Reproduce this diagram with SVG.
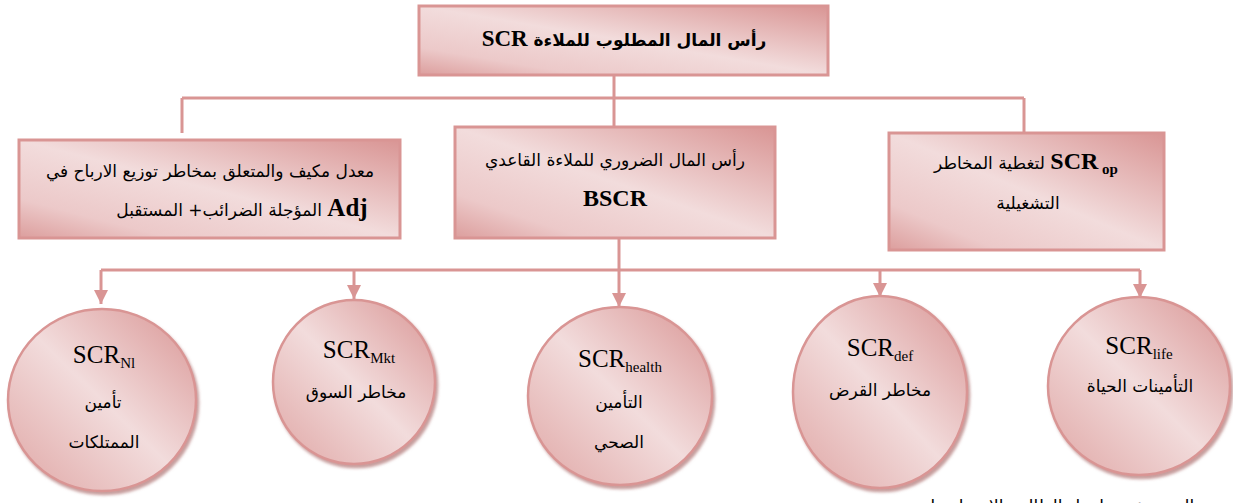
<svg xmlns="http://www.w3.org/2000/svg" width="1233" height="503" viewBox="0 0 1233 503">
  <defs>
    <linearGradient id="fillBox" x1="1" y1="0" x2="0" y2="1">
      <stop offset="0" stop-color="#d99594"/>
      <stop offset="0.5" stop-color="#f2dcdc"/>
      <stop offset="0.8" stop-color="#ecc9c9"/>
      <stop offset="1" stop-color="#dc9e9d"/>
    </linearGradient>
    <linearGradient id="fillCircle" x1="1" y1="0" x2="0" y2="1">
      <stop offset="0" stop-color="#d99594"/>
      <stop offset="0.5" stop-color="#f2dcdc"/>
      <stop offset="0.85" stop-color="#e5b6b5"/>
      <stop offset="1" stop-color="#d99594"/>
    </linearGradient>
    <filter id="shadow" x="-10%" y="-10%" width="125%" height="125%">
      <feGaussianBlur in="SourceAlpha" stdDeviation="1.5"/>
      <feOffset dx="2" dy="3" result="off"/>
      <feFlood flood-color="#a86766" flood-opacity="0.65"/>
      <feComposite in2="off" operator="in"/>
      <feMerge><feMergeNode/><feMergeNode in="SourceGraphic"/></feMerge>
    </filter>
    <marker id="tri" markerUnits="userSpaceOnUse" markerWidth="16" markerHeight="16" viewBox="0 0 16 16" refX="15" refY="8" orient="auto">
      <path d="M1,1 L15,8 L1,15 Z" fill="#d99594"/>
    </marker>
  </defs>
  <style>
    .box { fill: url(#fillBox); stroke: #d99594; stroke-width: 3; }
    .circ { fill: url(#fillCircle); stroke: #d99594; stroke-width: 2.5; filter: url(#shadow); }
    .line { fill: none; stroke: #d99594; stroke-width: 3; }
    .ar { font-family: "DejaVu Sans", "Liberation Serif", sans-serif; font-size: 17px; fill: #000; }
    .rtl { direction: rtl; unicode-bidi: embed; }
    .lat { font-family: "Liberation Serif", serif; fill: #000; }
    .bold { font-weight: bold; }
    .scr { font-size: 25px; }
    .sub { font-size: 15px; }
  </style>

  <!-- connectors -->
  <g id="connectors">
    <path class="line" d="M614,75 V98 M182,98 H1024 M182,98 V133 M614,98 V127 M1024,98 V133"/>
    <path class="line" d="M101,270 H1140"/>
    <path class="line" d="M619,238 V307" marker-end="url(#tri)"/>
    <path class="line" d="M101,270 V304" marker-end="url(#tri)"/>
    <path class="line" d="M354,270 V299" marker-end="url(#tri)"/>
    <path class="line" d="M880,270 V297" marker-end="url(#tri)"/>
    <path class="line" d="M1140,270 V298" marker-end="url(#tri)"/>
  </g>

  <!-- top: required capital -->
  <g id="node-scr">
    <rect class="box" x="419" y="6" width="409" height="69"/>
    <text class="ar rtl" x="624" y="46" text-anchor="middle" font-size="19" font-weight="bold">رأس المال المطلوب للملاءة <tspan class="lat" font-size="23">SCR</tspan></text>
  </g>

  <!-- adjustment box -->
  <g id="node-adj">
    <rect class="box" x="19" y="140" width="381" height="98"/>
    <text class="ar rtl" x="210" y="177" text-anchor="middle">معدل مكيف والمتعلق بمخاطر توزيع الارباح في</text>
    <text class="ar rtl" x="242" y="216" text-anchor="middle" font-size="18"><tspan class="lat bold" font-size="25">Adj</tspan> المؤجلة الضرائب+ المستقبل</text>
  </g>

  <!-- basic SCR box -->
  <g id="node-bscr">
    <rect class="box" x="455" y="127" width="320" height="111"/>
    <text class="ar rtl" x="615" y="166" text-anchor="middle">رأس المال الضروري للملاءة القاعدي</text>
    <text class="lat bold" x="615" y="206" text-anchor="middle" font-size="24">BSCR</text>
  </g>

  <!-- operational risk box -->
  <g id="node-op">
    <rect class="box" x="889" y="133" width="275" height="117"/>
    <text class="ar rtl" x="1026" y="169" text-anchor="middle"><tspan class="lat bold" font-size="24">SCR</tspan><tspan class="lat bold" font-size="15" dy="5"> op</tspan><tspan dy="-5"> لتغطية المخاطر</tspan></text>
    <text class="ar rtl" x="1028" y="209" text-anchor="middle">التشغيلية</text>
  </g>

  <!-- non-life insurance -->
  <g id="node-nl">
    <ellipse class="circ" cx="102" cy="400" rx="94" ry="91"/>
    <text class="lat" x="104" y="363" text-anchor="middle"><tspan class="scr">SCR</tspan><tspan class="sub" dy="5">Nl</tspan></text>
    <text class="ar rtl" x="103" y="408" text-anchor="middle">تأمين</text>
    <text class="ar rtl" x="104" y="448" text-anchor="middle">الممتلكات</text>
  </g>

  <!-- market risk -->
  <g id="node-mkt">
    <ellipse class="circ" cx="354" cy="382" rx="81" ry="82"/>
    <text class="lat" x="359" y="358" text-anchor="middle"><tspan class="scr">SCR</tspan><tspan class="sub" dy="5">Mkt</tspan></text>
    <text class="ar rtl" x="356" y="398" text-anchor="middle">مخاطر السوق</text>
  </g>

  <!-- health insurance -->
  <g id="node-health">
    <ellipse class="circ" cx="620" cy="396" rx="92" ry="89"/>
    <text class="lat" x="620" y="367" text-anchor="middle"><tspan class="scr">SCR</tspan><tspan class="sub" dy="5">health</tspan></text>
    <text class="ar rtl" x="619" y="408" text-anchor="middle">التأمين</text>
    <text class="ar rtl" x="619" y="448" text-anchor="middle">الصحي</text>
  </g>

  <!-- default risk -->
  <g id="node-def">
    <ellipse class="circ" cx="880" cy="392" rx="87" ry="96"/>
    <text class="lat" x="880" y="356" text-anchor="middle"><tspan class="scr">SCR</tspan><tspan class="sub" dy="5">def</tspan></text>
    <text class="ar rtl" x="880" y="396" text-anchor="middle">مخاطر القرض</text>
  </g>

  <!-- life insurance -->
  <g id="node-life">
    <ellipse class="circ" cx="1139" cy="386" rx="91" ry="89"/>
    <text class="lat" x="1139" y="354" text-anchor="middle"><tspan class="scr">SCR</tspan><tspan class="sub" dy="5">life</tspan></text>
    <text class="ar rtl" x="1140" y="392" text-anchor="middle">التأمينات الحياة</text>
  </g>

  <!-- source line, cut by the bottom edge -->
  <text class="ar rtl" x="1055" y="512" text-anchor="middle" font-size="19">المصدر: من إعداد الطالبة بالاعتماد على</text>
</svg>
